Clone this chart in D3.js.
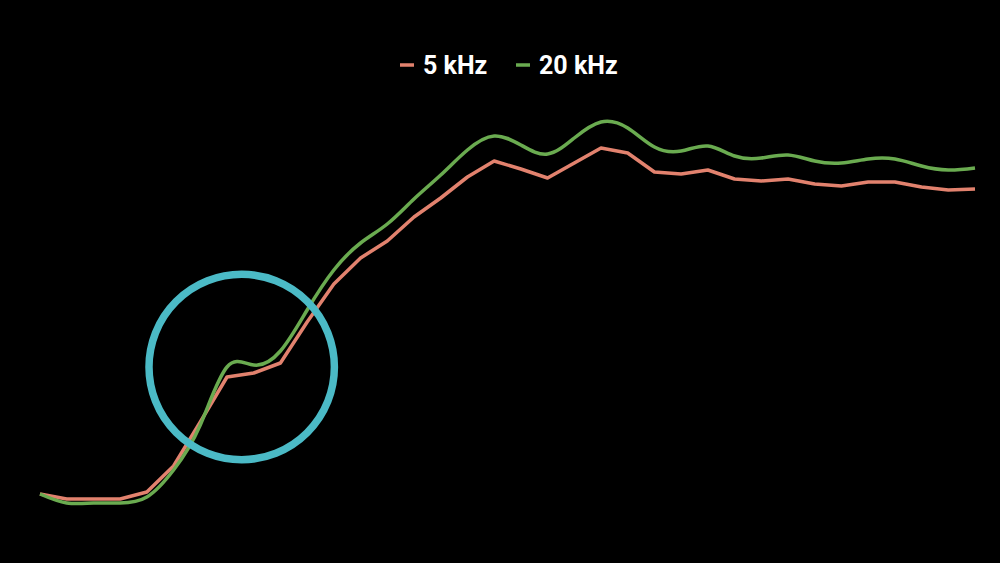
<!DOCTYPE html>
<html>
<head>
<meta charset="utf-8">
<script src="https://cdn.jsdelivr.net/npm/d3@7"></script>
<style>
  html, body { margin: 0; padding: 0; background: #000; }
  .legendText { font-family: Roboto, "Noto Sans", sans-serif; font-weight: 700; font-size: 25px; fill: #fff; }
</style>
</head>
<body>
<div class="chart"></div>
<script>
// Chart data (arbitrary units 0-100)
var seriesNames = ["5 kHz", "20 kHz"];
var seriesColors = ["#e2826e", "#6aab50"];
var steps = d3.range(36);

var khz5 = [4, 2.75, 2.75, 2.75, 4.5, 11, 22, 33.25, 34.25, 36.75,
  47, 56.5, 63, 67.25, 73.25, 78, 83.25, 87.25, 85.25, 83,
  86.75, 90.5, 89.25, 84.5, 84, 85, 82.75, 82.25, 82.75, 81.5,
  81, 82, 82, 80.75, 80, 80.25];

var khz20 = [4, 1.75, 1.75, 1.75, 3.25, 10, 21.25, 35.75, 36.25, 39.75,
  50, 60, 66.75, 71.5, 77.75, 83.75, 90, 93.5, 91.25, 89,
  93, 97, 95.5, 90.75, 89.75, 91, 88.5, 88, 88.75, 87.25,
  86.75, 87.75, 87.75, 86, 85, 85.5];

// highlight circle around the bump (in data units)
var highlight = { step: 7.55, value: 35.75, radiusSteps: 3.47 };

var svgWidth = 1000;
var svgHeight = 563;

var svg = d3.select(".chart")
  .append("svg")
  .attr("width", svgWidth)
  .attr("height", svgHeight)
  .style("display", "block");

svg.append("rect")
  .attr("width", svgWidth)
  .attr("height", svgHeight)
  .attr("fill", "#000");

// Scales
var xScale = d3.scaleLinear()
  .domain([0, 35])
  .range([40, 975]);

var yScale = d3.scaleLinear()
  .domain([0, 100])
  .range([510, 110]);

// Lines
var line5 = d3.line()
  .x((d, i) => xScale(steps[i]))
  .y(d => yScale(d))
  .curve(d3.curveLinear);

var line20 = d3.line()
  .x((d, i) => xScale(steps[i]))
  .y(d => yScale(d))
  .curve(d3.curveNatural);

svg.append("path")
  .datum(khz5)
  .attr("d", line5)
  .attr("fill", "none")
  .attr("stroke", seriesColors[0])
  .attr("stroke-width", 3.5)
  .attr("stroke-linejoin", "round");

svg.append("path")
  .datum(khz20)
  .attr("d", line20)
  .attr("fill", "none")
  .attr("stroke", seriesColors[1])
  .attr("stroke-width", 3.5)
  .attr("stroke-linejoin", "round");

// Annotation circle
svg.append("circle")
  .attr("cx", xScale(highlight.step))
  .attr("cy", yScale(highlight.value))
  .attr("r", xScale(highlight.radiusSteps) - xScale(0))
  .attr("fill", "none")
  .attr("stroke", "#4bbac6")
  .attr("stroke-width", 7.5);

// Legend
var legendItems = [
  { name: seriesNames[0], color: seriesColors[0], x: 400 },
  { name: seriesNames[1], color: seriesColors[1], x: 516 }
];

var legend = svg.append("g")
  .attr("transform", "translate(0, 65)");

var items = legend.selectAll("g")
  .data(legendItems)
  .enter()
  .append("g")
  .attr("transform", d => `translate(${d.x}, 0)`);

items.append("line")
  .attr("x1", 0)
  .attr("x2", 14)
  .attr("y1", 0)
  .attr("y2", 0)
  .attr("stroke", d => d.color)
  .attr("stroke-width", 3.5);

items.append("text")
  .attr("class", "legendText")
  .attr("x", 23)
  .attr("y", 9)
  .text(d => d.name);
</script>
</body>
</html>
